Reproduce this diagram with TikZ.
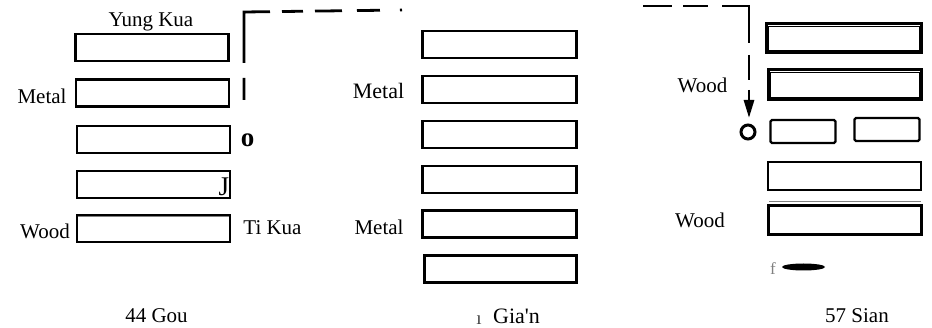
\documentclass[tikz,border=0pt]{standalone}
\usepackage{fontspec}
\setmainfont{Liberation Serif}
\usetikzlibrary{arrows.meta,shapes.geometric}
\begin{document}
\begin{tikzpicture}[x=1pt,y=-1pt,
  bar/.style={draw, line width=2.6pt, rectangle, inner sep=0pt, minimum width=153pt, minimum height=27pt},
  heavybar/.style={bar, line width=3.4pt},
  halfbar/.style={draw, line width=2.4pt, rectangle, rounded corners=1.5pt, inner sep=0pt, minimum width=65pt, minimum height=23pt},
  lbl/.style={font=\fontsize{21pt}{24pt}\selectfont, inner sep=0pt, anchor=base},
  dashline/.style={line width=2.8pt},
  innerline/.style={line width=1.1pt},
]
\useasboundingbox (0,0) rectangle (932,328);

% ---- left hexagram: 44 Gou
\node[bar] (l1) at (152,47.5) {};
\node[bar] (l2) at (152.5,93) {};
\node[bar] (l3) at (153.5,139.5) {};
\node[bar] (l4) at (153.5,184.5) {};
\node[bar] (l5) at (153.5,228.5) {};
\draw[innerline, gray] ([shift={(2,3)}]l5.north west) -- ([shift={(-2,3)}]l5.north east);

\node[lbl] (yung) at (151,27) {Yung Kua};
\node[lbl] (lmetal) at (42,104) {Metal};
\node[lbl, font=\fontsize{27pt}{30pt}\selectfont\bfseries] (lo) at (247.5,147) {o};
\node[lbl, font=\fontsize{27pt}{30pt}\selectfont] (lj) at (224,196) {J};
\node[lbl] (lwood) at (45,239) {Wood};
\node[lbl] (tikua) at (272.5,235) {Ti Kua};
\node[lbl] (gou) at (156.5,323) {44 Gou};

% ---- middle hexagram: Gia'n
\node[bar, minimum width=154pt] (m1) at (499.5,44.5) {};
\node[bar, minimum width=154pt] (m2) at (499.5,89.5) {};
\node[bar, minimum width=154pt] (m3) at (499.5,134.5) {};
\node[bar, minimum width=154pt] (m4) at (499.5,179.5) {};
\node[bar, minimum width=154pt] (m5) at (499.5,224) {};
\node[bar, minimum width=152pt] (m6) at (500.5,269) {};

\node[lbl, font=\fontsize{22pt}{24pt}\selectfont] (mmetal1) at (378.5,99) {Metal};
\node[lbl] (mmetal2) at (379,235) {Metal};
\node[lbl, font=\fontsize{22pt}{24pt}\selectfont] (gian) at (516.5,324) {Gia\textquotesingle n};
\node[lbl, font=\fontsize{19pt}{21pt}\selectfont, text=darkgray] (tick) at (479,325) {ı};

% ---- right hexagram: 57 Sian
\node[heavybar, minimum width=155pt, minimum height=29pt] (r1) at (844,38) {};
\node[heavybar, minimum width=153pt, minimum height=30pt] (r2) at (845,84.5) {};
\draw[innerline] ([shift={(4,4.5)}]r1.north west) rectangle ([shift={(-4,-3.5)}]r1.south east);
\draw[innerline] ([shift={(4,4.5)}]r2.north west) rectangle ([shift={(-4,-3.5)}]r2.south east);
\node[halfbar] (r3a) at (803,131.5) {};
\node[halfbar] (r3b) at (887,129.5) {};
\node[bar, minimum height=28pt] (r4) at (844.5,176) {};
\node[bar, minimum height=29pt] (r5) at (845,220) {};
\draw[innerline, gray] ([shift={(2,-3)}]r5.north west) -- ([shift={(-2,-3)}]r5.north east);

\node[lbl] (rwood1) at (702.5,93) {Wood};
\node[lbl] (rwood2) at (700,228) {Wood};
\node[lbl, font=\fontsize{17pt}{19pt}\selectfont, text=gray] (rf) at (773,275) {f};
\node[ellipse, fill=black, inner sep=0pt, minimum width=43pt, minimum height=7pt] (blob) at (803.5,267) {};
\node[lbl] (sian) at (857,323) {57 Sian};
\node[circle, draw, line width=3pt, minimum size=14pt, inner sep=0pt] (ring) at (748,132) {};

% ---- dashed connectors
\coordinate (ls) at (244,100);
\coordinate (lc) at (244,12);
\coordinate (le) at (402,10);
\draw[dashline, dash pattern=on 22pt off 15pt on 77pt off 12pt on 21pt off 12pt on 27pt off 15pt on 23pt off 20pt on 2.5pt off 60pt]
  (ls) -- (lc) -- (le);

\coordinate (rs) at (643,6);
\coordinate (rc) at (749,6);
\draw[dashline, dash pattern=on 29pt off 11pt on 25pt off 14pt on 64pt off 12pt on 25pt off 10pt on 60pt,
  -{Triangle[length=18pt,width=10pt]}, shorten >=5.5pt]
  (rs) -- (rc) -- (ring.north -| rc);
\end{tikzpicture}
\end{document}
